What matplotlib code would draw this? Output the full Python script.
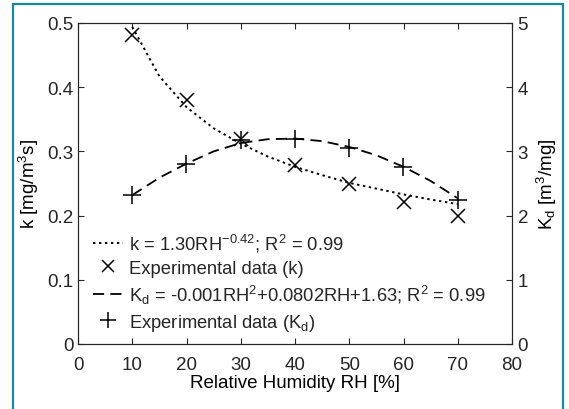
import matplotlib
matplotlib.use("Agg")
import matplotlib.pyplot as plt
from matplotlib.patches import Rectangle
from matplotlib.lines import Line2D

plt.rcParams.update({
    "font.family": ["Liberation Sans", "DejaVu Sans"],
    "mathtext.fontset": "custom",
    "mathtext.rm": "Liberation Sans",
    "mathtext.it": "Liberation Sans:italic",
    "mathtext.bf": "Liberation Sans:bold",
    "font.size": 13.5,
    "lines.scale_dashes": False,
    "text.color": "#262626",
    "axes.edgecolor": "#262626",
    "xtick.color": "#262626",
    "ytick.color": "#262626",
})

# ── data ────────────────────────────────────────────────────────────────
rh_exp = [10, 20, 30, 40, 50, 60, 70]
k_exp = [0.481, 0.380, 0.320, 0.279, 0.249, 0.221, 0.200]
kd_exp = [2.32, 2.81, 3.18, 3.19, 3.06, 2.75, 2.25]

rh_fit = [10, 15, 20, 25, 30, 35, 40, 45, 50, 55, 60, 65, 70]
k_fit = [0.494, 0.417, 0.369, 0.336, 0.312, 0.292, 0.276, 0.263, 0.251,
         0.242, 0.233, 0.225, 0.218]
kd_fit = [2.32, 2.59, 2.81, 3.00, 3.13, 3.19, 3.20, 3.16, 3.07, 2.94,
          2.76, 2.54, 2.27]

x_ticks = [0, 10, 20, 30, 40, 50, 60, 70, 80]
k_ticks = [0, 0.1, 0.2, 0.3, 0.4, 0.5]
kd_ticks = [0, 1, 2, 3, 4, 5]

lbl_k_fit = r"k = 1.30RH$^{-0.42}$; R$^{2}$ = 0.99"
lbl_k_exp = "Experimental data (k)"
lbl_kd_fit = r"K$_{\mathrm{d}}$ = -0.001RH$^{2}$+0.0802RH+1.63; R$^{2}$ = 0.99"
lbl_kd_exp = r"Experimental data (K$_{\mathrm{d}}$)"

dotted = (0, (1.7, 2.6))
dashed = (0, (8.0, 4.5))

fig = plt.figure(figsize=(5.69, 4.10), dpi=100)
ax = fig.add_axes([78 / 569, 1 - 345 / 410, 434 / 569, 321 / 410])
ax2 = ax.twinx()

ax.plot(rh_fit, k_fit, color="black", lw=1.4, linestyle=dotted)
ax.plot(rh_exp, k_exp, linestyle="none", marker="x", ms=9.5, mew=1.1, color="black")
ax2.plot(rh_fit, kd_fit, color="black", lw=1.3, linestyle=dashed)
ax2.plot(rh_exp, kd_exp, linestyle="none", marker="+", ms=12.5, mew=1.1, color="black")

ax.set_xlim(0, 80)
ax.set_ylim(0, 0.5)
ax2.set_ylim(0, 5)
ax.set_xticks(x_ticks)
ax.set_yticks(k_ticks)
ax.set_yticklabels(["0", "0.1", "0.2", "0.3", "0.4", "0.5"])
ax2.set_yticks(kd_ticks)

ax.tick_params(axis="x", direction="in", top=True, length=4, width=0.8, pad=8.5)
ax.tick_params(axis="y", direction="in", length=4, width=0.8, pad=3)
ax2.tick_params(axis="y", direction="in", length=4, width=0.8, pad=4)

ax.set_xlabel("Relative Humidity RH [%]", labelpad=1)
ax.set_ylabel(r"k [mg/m$^{3}$s]", labelpad=5)
ax2.set_ylabel(r"K$_{\mathrm{d}}$ [m$^{3}$/mg]", labelpad=5)

handles = [
    Line2D([], [], color="black", lw=1.4, linestyle=dotted),
    Line2D([], [], color="black", linestyle="none", marker="x", ms=8.5, mew=1.1),
    Line2D([], [], color="black", lw=1.3, linestyle=dashed),
    Line2D([], [], color="black", linestyle="none", marker="+", ms=11, mew=1.1),
]
ax2.legend(handles, [lbl_k_fit, lbl_k_exp, lbl_kd_fit, lbl_kd_exp],
           loc="lower left", bbox_to_anchor=(0.035, 0.035), frameon=False,
           fontsize=13.2, handlelength=1.65, handletextpad=0.3,
           labelspacing=0.33, borderpad=0, borderaxespad=0)

# outer frame round the figure
fig.add_artist(Rectangle((12.5 / 569, -0.05), 550.5 / 569, 1.05 - 4.5 / 410,
                         transform=fig.transFigure, fill=False,
                         edgecolor="#178aa3", lw=1.6))

fig.savefig("out.png", dpi=100)
